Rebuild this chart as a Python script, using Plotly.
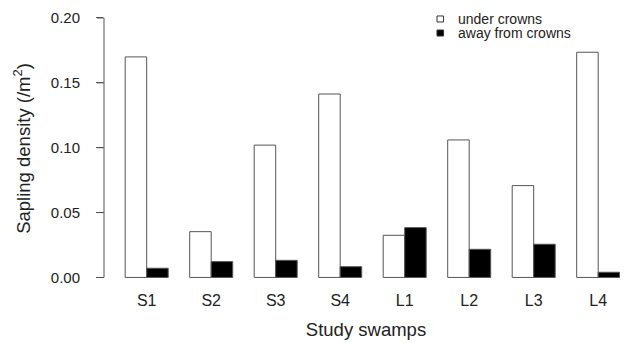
import plotly.graph_objects as go

categories = ["S1", "S2", "S3", "S4", "L1", "L2", "L3", "L4"]
under_crowns = [0.170, 0.0353, 0.102, 0.1414, 0.0325, 0.106, 0.0708, 0.1736]
away_from_crowns = [0.0071, 0.0122, 0.0132, 0.0083, 0.0384, 0.0217, 0.0256, 0.0040]
series_names = ["under crowns", "away from crowns"]
y_ticks = [0.00, 0.05, 0.10, 0.15, 0.20]
y_tick_labels = ["0.00", "0.05", "0.10", "0.15", "0.20"]

FONT = "Liberation Sans, Arial, Helvetica, sans-serif"
TXT = "#222222"
EDGE = "#555555"
AXC = "#555555"

Y_RANGE = [-0.0089, 0.2077]
PLOT_W = 524  # plot area width in px (620 - 96)


def ypaper(v):
    return (v - Y_RANGE[0]) / (Y_RANGE[1] - Y_RANGE[0])


fig = go.Figure()
fig.add_trace(go.Bar(x=categories, y=under_crowns, name=series_names[0],
                     marker=dict(color="white", line=dict(color=EDGE, width=1))))
fig.add_trace(go.Bar(x=categories, y=away_from_crowns, name=series_names[1],
                     marker=dict(color="black", line=dict(color=EDGE, width=1))))

# R-style y axis: line only across the tick range, plus tick marks
fig.add_shape(type="line", xref="paper", yref="paper", x0=0, x1=0,
              y0=ypaper(y_ticks[0]), y1=ypaper(y_ticks[-1]),
              line=dict(color=AXC, width=1))
for t in y_ticks:
    fig.add_shape(type="line", xref="paper", yref="paper", x0=-7 / PLOT_W, x1=0,
                  y0=ypaper(t), y1=ypaper(t), line=dict(color=AXC, width=1))

# manual legend
leg_y = [0.9609, 0.911]
leg_fill = ["white", "black"]
for name, yy, fc in zip(series_names, leg_y, leg_fill):
    fig.add_shape(type="rect", xref="paper", yref="paper",
                  x0=0.6355, x1=0.648, y0=yy - 0.0107, y1=yy + 0.0107,
                  fillcolor=fc, line=dict(color="#333333", width=1))
    fig.add_annotation(text=name, xref="paper", yref="paper", x=0.671, y=yy,
                       xanchor="left", yanchor="middle", showarrow=False,
                       font=dict(family=FONT, size=14, color=TXT))

# page body has an 8px default margin, so the figure is 8px smaller than the window
fig.update_layout(
    width=620, height=335,
    margin=dict(l=96, r=0, t=0, b=54),
    paper_bgcolor="white", plot_bgcolor="white",
    barmode="group", bargap=1/3, bargroupgap=0,
    showlegend=False,
    font=dict(family=FONT, size=16, color=TXT),
    xaxis=dict(range=[-0.662, 7.462], showline=False, showgrid=False, zeroline=False,
               automargin=False, ticks="", tickfont=dict(size=16, color=TXT),
               title=dict(text="Study swamps", font=dict(size=18.5, color=TXT), standoff=15)),
    yaxis=dict(range=Y_RANGE, showline=False, showgrid=False, zeroline=False,
               automargin=False,
               tickvals=y_ticks, ticktext=y_tick_labels, ticks="outside", ticklen=7,
               tickcolor=AXC, tickwidth=1, ticklabelstandoff=13,
               tickfont=dict(size=15, color=TXT),
               title=dict(text="Sapling density (/m<sup>2</sup>)", font=dict(size=18.5, color=TXT),
                          standoff=15)),
)

fig.write_html("out.html")
